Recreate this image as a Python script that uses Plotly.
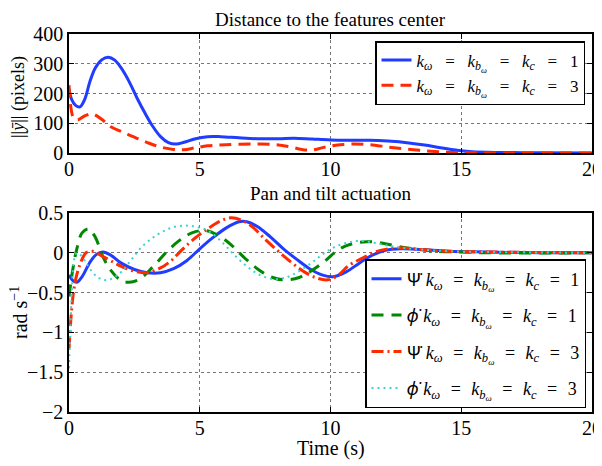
import plotly.graph_objects as go

# ---- top panel data: distance to the features centre (pixels) ----
t_top_k1 = [0, 0.1, 0.25, 0.42, 0.6, 0.8, 1.0, 1.25, 1.5, 1.75, 2.0, 2.3, 2.6, 2.9, 3.2, 3.5, 3.8, 4.1, 4.4, 4.8,
            5.3, 5.8, 6.5, 7.2, 8.0, 8.6, 9.3, 10.0, 10.8, 11.5, 12.2, 13.0, 13.6, 14.2, 14.8, 15.3, 16, 17, 18, 20]
dist_k1 = [215, 180, 160, 155, 180, 240, 285, 313, 322, 312, 285, 240, 185, 135, 90, 55, 35, 30, 36, 47,
           55, 55, 51, 48, 48, 50, 47, 44, 43, 43, 40, 34, 27, 18, 10, 5, 2.5, 1.5, 0.8, 0]
t_top_k3 = [0, 0.05, 0.12, 0.2, 0.35, 0.6, 0.9, 1.0, 1.3, 1.6, 2.0, 2.5, 3.0, 3.5, 4.0, 4.4, 4.8, 5.3, 6.0, 7.0,
            7.8, 8.4, 8.9, 9.3, 9.7, 10.2, 10.8, 11.5, 12.2, 12.8, 13.4, 14.0, 14.6, 15.5, 17, 20]
dist_k3 = [228, 170, 130, 115, 112, 125, 132, 128, 110, 88, 72, 53, 35, 20, 12, 11, 17, 24, 28, 30,
           29, 22, 12, 10, 18, 26, 30, 28, 20, 14, 9, 5, 2, 0.5, 0.2, 0]

# ---- bottom panel data: pan and tilt actuation (rad/s) ----
t_psi_k1 = [0, 0.15, 0.3, 0.5, 0.8, 1.05, 1.3, 1.6, 2.0, 2.5, 3.0, 3.5, 4.0, 4.5, 5.0, 5.5, 6.0, 6.5, 6.8, 7.2,
            7.7, 8.2, 8.7, 9.2, 9.7, 10.1, 10.6, 11.1, 11.6, 12.1, 12.7, 13.5, 14.5, 16, 18, 20]
psi_k1 = [-0.28, -0.35, -0.37, -0.3, -0.12, -0.02, 0.01, -0.03, -0.13, -0.21, -0.25, -0.25, -0.2, -0.1, 0.05,
          0.19, 0.31, 0.39, 0.39, 0.33, 0.2, 0.05, -0.08, -0.2, -0.28, -0.3, -0.24, -0.13, -0.03, 0.03, 0.05,
          0.04, 0.02, 0.01, 0, 0]
t_phi_k1 = [0, 0.15, 0.3, 0.5, 0.75, 1.0, 1.3, 1.6, 2.0, 2.3, 2.7, 3.2, 3.7, 4.2, 4.7, 5.2, 5.7, 6.2, 6.7, 7.2,
            7.7, 8.2, 8.8, 9.3, 9.8, 10.3, 10.8, 11.4, 12.0, 12.6, 13.2, 14, 15, 16, 20]
phi_k1 = [-0.55, -0.2, 0.05, 0.25, 0.3, 0.2, -0.05, -0.22, -0.35, -0.37, -0.33, -0.18, 0.0, 0.15, 0.25, 0.28,
          0.22, 0.1, -0.06, -0.2, -0.3, -0.34, -0.31, -0.22, -0.1, 0.04, 0.11, 0.14, 0.12, 0.08, 0.05, 0.02,
          0.01, 0, 0]
t_psi_k3 = [0, 0.08, 0.17, 0.28, 0.45, 0.65, 0.9, 1.2, 1.6, 2.0, 2.5, 3.0, 3.5, 3.9, 4.3, 4.8, 5.3, 5.8, 6.2,
            6.6, 7.0, 7.5, 8.0, 8.5, 9.0, 9.5, 9.9, 10.3, 10.7, 11.2, 11.7, 12.2, 12.8, 13.5, 14.5, 16, 20]
psi_k3 = [-1.2, -0.8, -0.5, -0.3, -0.12, 0.0, 0.02, -0.03, -0.1, -0.17, -0.23, -0.25, -0.19, -0.1, 0.03, 0.18,
          0.3, 0.4, 0.44, 0.41, 0.33, 0.17, 0.02, -0.12, -0.24, -0.32, -0.34, -0.28, -0.16, -0.07, 0.01, 0.05,
          0.06, 0.04, 0.02, 0.01, 0]
t_phi_k3 = [0, 0.06, 0.12, 0.2, 0.3, 0.45, 0.7, 1.0, 1.3, 1.6, 2.0, 2.4, 2.8, 3.3, 3.8, 4.3, 4.8, 5.3, 5.8, 6.3,
            6.8, 7.3, 7.8, 8.3, 8.8, 9.3, 9.7, 10.2, 10.7, 11.1, 11.6, 12.2, 12.8, 13.5, 14.5, 16, 20]
phi_k3 = [-1.45, -0.9, -0.4, -0.08, 0.0, -0.03, -0.15, -0.28, -0.34, -0.33, -0.24, -0.08, 0.08, 0.21, 0.3, 0.34,
          0.33, 0.28, 0.15, -0.02, -0.17, -0.28, -0.33, -0.31, -0.23, -0.12, -0.02, 0.08, 0.13, 0.15, 0.13,
          0.09, 0.06, 0.04, 0.02, 0.01, 0]

x_ticks = [0, 5, 10, 15, 20]
top_yticks = [0, 100, 200, 300, 400]
bot_yticks = [-2, -1.5, -1, -0.5, 0, 0.5]

def gains(eq, value):
    return ("<i>k</i><sub><i>ω</i></sub>" + eq + "<i>k</i><sub><i>b</i><sub><i>ω</i></sub></sub>" + eq
            + "<i>k</i><sub><i>c</i></sub>" + eq + value)

EQ_TOP = "\u2002\u2005=\u2002\u2005"
EQ_BOT = "\u2002\u200a=\u2002\u200a"
PSI = "<span style=\"font-family:'Noto Sans'\">Ψ\u0307</span>"
PHI = "<span style=\"font-family:'Noto Sans'\"><i>ϕ\u0307</i></span>"

BLUE = "#1f3cff"
RED = "#ff2a00"
GREEN = "#008800"
CYAN = "#3cd2d2"
SERIF = "Liberation Serif"

# page has an 8px body margin: work in reference pixels and shift by it
OFF = 8
W, H = 602 - OFF, 466 - OFF
def px(x):
    return (x - OFF) / W
def py(y):
    return 1 - (y - OFF) / H

fig = go.Figure()
fig.add_trace(go.Scatter(x=t_top_k1, y=dist_k1, mode="lines", name=gains(EQ_TOP, "1"),
                         line=dict(color=BLUE, width=3, shape="spline"), xaxis="x", yaxis="y", legend="legend"))
fig.add_trace(go.Scatter(x=t_top_k3, y=dist_k3, mode="lines", name=gains(EQ_TOP, "3"),
                         line=dict(color=RED, width=3, dash="12px,7px", shape="spline"), xaxis="x", yaxis="y", legend="legend"))

fig.add_trace(go.Scatter(x=t_psi_k1, y=psi_k1, mode="lines", name=PSI + " " + gains(EQ_BOT, "1"), legendgroup="a",
                         line=dict(color=BLUE, width=3, shape="spline"), xaxis="x2", yaxis="y2", legend="legend2"))
fig.add_trace(go.Scatter(x=t_phi_k1, y=phi_k1, mode="lines", name=PHI + " " + gains(EQ_BOT, "1"), legendgroup="b",
                         line=dict(color=GREEN, width=3, dash="12px,8px", shape="spline"), xaxis="x2", yaxis="y2", legend="legend2"))
fig.add_trace(go.Scatter(x=t_psi_k3, y=psi_k3, mode="lines", name=PSI + " " + gains(EQ_BOT, "3"), legendgroup="c",
                         line=dict(color=RED, width=3, dash="12px,4px,2px,4px", shape="spline"), xaxis="x2", yaxis="y2", legend="legend2"))
fig.add_trace(go.Scatter(x=t_phi_k3, y=phi_k3, mode="lines", name=PHI + " " + gains(EQ_BOT, "3"), legendgroup="d",
                         line=dict(color=CYAN, width=2, dash="2px,4px", shape="spline"), xaxis="x2", yaxis="y2", legend="legend2"))

xl, xr = 69, 592

axis_common = dict(showline=True, mirror="ticks", linecolor="black", linewidth=1.5,
                   ticks="inside", ticklen=5, tickcolor="black", automargin=False,
                   showgrid=True, gridcolor="#777", griddash="dot", gridwidth=1,
                   zeroline=False, tickfont=dict(family=SERIF, size=20, color="black"))

def label(text, x, y, size, angle=0):
    return dict(text=text, x=px(x), y=py(y), xref="paper", yref="paper", xanchor="center", yanchor="middle",
                textangle=angle, showarrow=False, borderpad=0, font=dict(family=SERIF, size=size, color="black"))

fig.update_layout(
    width=W, height=H, autosize=False,
    margin=dict(l=0, r=0, t=0, b=0, autoexpand=False),
    paper_bgcolor="white", plot_bgcolor="white",
    font=dict(family=SERIF, color="black"),
    xaxis=dict(domain=[px(xl), px(xr)], range=[0, 20], tickvals=x_ticks, anchor="y", ticklabelstandoff=-3, **axis_common),
    yaxis=dict(domain=[py(153), py(34)], range=[0, 400], tickvals=top_yticks, anchor="x", **axis_common),
    xaxis2=dict(domain=[px(xl), px(xr)], range=[0, 20], tickvals=x_ticks, anchor="y2", ticklabelstandoff=-3, **axis_common),
    yaxis2=dict(domain=[py(412), py(213)], range=[-2, 0.5], tickvals=bot_yticks, anchor="x2", **axis_common),
    legend=dict(x=px(585), xanchor="right", y=py(41), yanchor="top",
                bgcolor="white", bordercolor="black", borderwidth=1.5,
                font=dict(family=SERIF, size=17, color="black")),
    legend2=dict(x=px(586), xanchor="right", y=py(408), yanchor="bottom",
                 bgcolor="white", bordercolor="black", borderwidth=1.5, tracegroupgap=10,
                 font=dict(family=SERIF, size=18, color="black")),
    showlegend=True,
    annotations=[
        label("Distance to the features center", (xl + xr) / 2, 20, 19),
        label("Pan and tilt actuation", (xl + xr) / 2, 193, 19),
        label("Time (s)", (xl + xr) / 2, 448, 20),
        label("||<i>ȳ</i>|| (pixels)", 19, 97, 18, -90),
        label("rad s<sup>−1</sup>", 19, 313, 20, -90),
    ],
)

fig.write_html("out.html")
